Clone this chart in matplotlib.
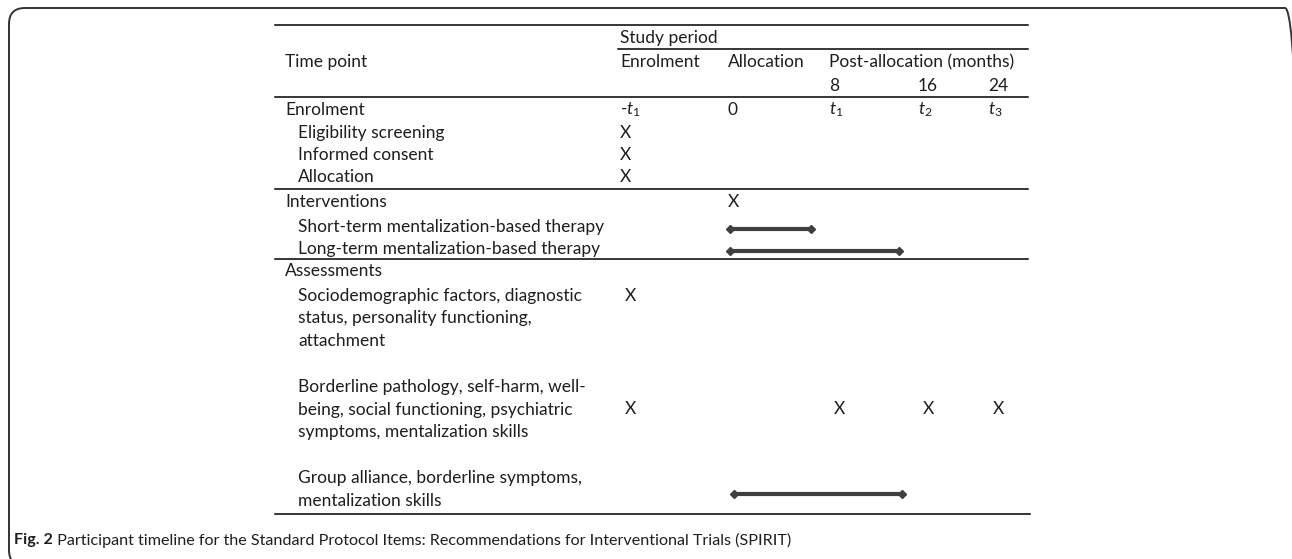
import numpy as np
import matplotlib.pyplot as plt
from matplotlib.patches import FancyBboxPatch
from matplotlib.transforms import IdentityTransform

# DATA
col_labels = ["Enrolment", "Allocation", "Post-allocation (months)", "", ""]
month_labels = ["", "", "8", "16", "24"]
time_labels = ["-$t_1$", "0", "$t_1$", "$t_2$", "$t_3$"]

row_labels = [["Enrolment"],
              ["Eligibility screening"],
              ["Informed consent"],
              ["Allocation"],
              ["Interventions"],
              ["Short-term mentalization-based therapy"],
              ["Long-term mentalization-based therapy"],
              ["Assessments"],
              ["Sociodemographic factors, diagnostic", "status, personality functioning,",
               "attachment"],
              ["Borderline pathology, self-harm, well-", "being, social functioning, psychiatric",
               "symptoms, mentalization skills"],
              ["Group alliance, borderline symptoms,", "mentalization skills"]]
row_indent = [0, 1, 1, 1, 0, 1, 1, 0, 1, 1, 1]

# X marks: (row index, column index)
x_rows = [1, 2, 3, 4, 8, 9, 9, 9, 9]
x_cols = [0, 0, 0, 1, 0, 0, 2, 3, 4]

# duration bars, in column units
bar_rows = [5, 6, 10]
bar_start = [1.02, 1.02, 1.06]
bar_end = [1.82, 2.79, 2.82]

caption_bold = "Fig. 2"
caption_text = " Participant timeline for the Standard Protocol Items: Recommendations for Interventional Trials (SPIRIT)"

# LAYOUT (pixels)
W, H = 1292, 559
col_x = [620, 728, 829, 918, 988]
row_y = [110, 133, 155, 177, 202, 227, 249, 271, 296, 387, 478]
mark_line = [0, 0, 0, 0, 0, 0, 0, 0, 0, 1, 0.6]   # which label line the mark sits on
line_gap = 22.5
label_x = 285
indent = 13
tab_l, tab_r = 275, 1028
fs = 12.5
dark = "#1e1e1e"
bar_col = "#404040"

plt.rcParams['font.family'] = ['Lato', 'DejaVu Sans']
plt.rcParams['mathtext.fontset'] = 'custom'
plt.rcParams['mathtext.it'] = 'Lato:italic'
plt.rcParams['mathtext.rm'] = 'Lato'

fig = plt.figure(figsize=(W / 100, H / 100), dpi=100)
ax = fig.add_axes([0, 0, 1, 1])
ax.set_xlim(0, W)
ax.set_ylim(H, 0)
ax.axis("off")

# frame (display pixels, origin bottom-left)
frame = FancyBboxPatch((9, H - 566), 1292, 558, boxstyle="round,pad=0,rounding_size=16",
                       fill=False, ec="#333333", lw=1.4, transform=IdentityTransform(),
                       clip_on=False)
fig.patches.append(frame)

# horizontal rules
hl = dict(color="black", lw=1.1)
ax.plot([tab_l, tab_r], [25, 25], **hl)
ax.plot([col_x[0] - 2, tab_r], [49, 49], **hl)
for yy in [97, 189, 259]:
    ax.plot([tab_l, tab_r], [yy, yy], **hl)
ax.plot([tab_l, 1030], [514, 514], **hl)

# header
ax.text(label_x, 62, "Time point", fontsize=fs, va="center", color=dark)
ax.text(col_x[0], 38, "Study period", fontsize=fs, va="center", color=dark)
for i, lab in enumerate(col_labels):
    ax.text(col_x[i], 62, lab, fontsize=fs, va="center", color=dark)
for i, lab in enumerate(month_labels):
    ax.text(col_x[i], 86, lab, fontsize=fs, va="center", color=dark)
for i, lab in enumerate(time_labels):
    ax.text(col_x[i], row_y[0], lab, fontsize=fs, va="center", color=dark)

# row labels
for i, lines in enumerate(row_labels):
    for k, ln in enumerate(lines):
        ax.text(label_x + indent * row_indent[i], row_y[i] + k * line_gap, ln,
                fontsize=fs, va="center", ha="left", color=dark)

# X marks
for r, c in zip(x_rows, x_cols):
    ax.text(col_x[c] + (5 if r >= 8 else 0), row_y[r] + mark_line[r] * line_gap, "X",
            fontsize=fs, va="center", color=dark)

# bars
colpos = np.arange(len(col_x))
for r, s, e in zip(bar_rows, bar_start, bar_end):
    xs = np.interp([s, e], colpos, col_x)
    yb = row_y[r] + mark_line[r] * line_gap + 2
    ax.plot(xs, [yb, yb], color=bar_col, lw=3, marker="D", ms=4.5,
            solid_capstyle="butt")

# caption
cfs = 11.6
t = ax.text(14, 540, caption_bold, fontsize=cfs, fontweight="bold", va="center", color=dark)
fig.canvas.draw()
bb = t.get_window_extent()
x_end = ax.transData.inverted().transform((bb.x1, 0))[0]
ax.text(x_end, 540, caption_text, fontsize=cfs, va="center", color=dark)

fig.savefig("out.png", dpi=100)
